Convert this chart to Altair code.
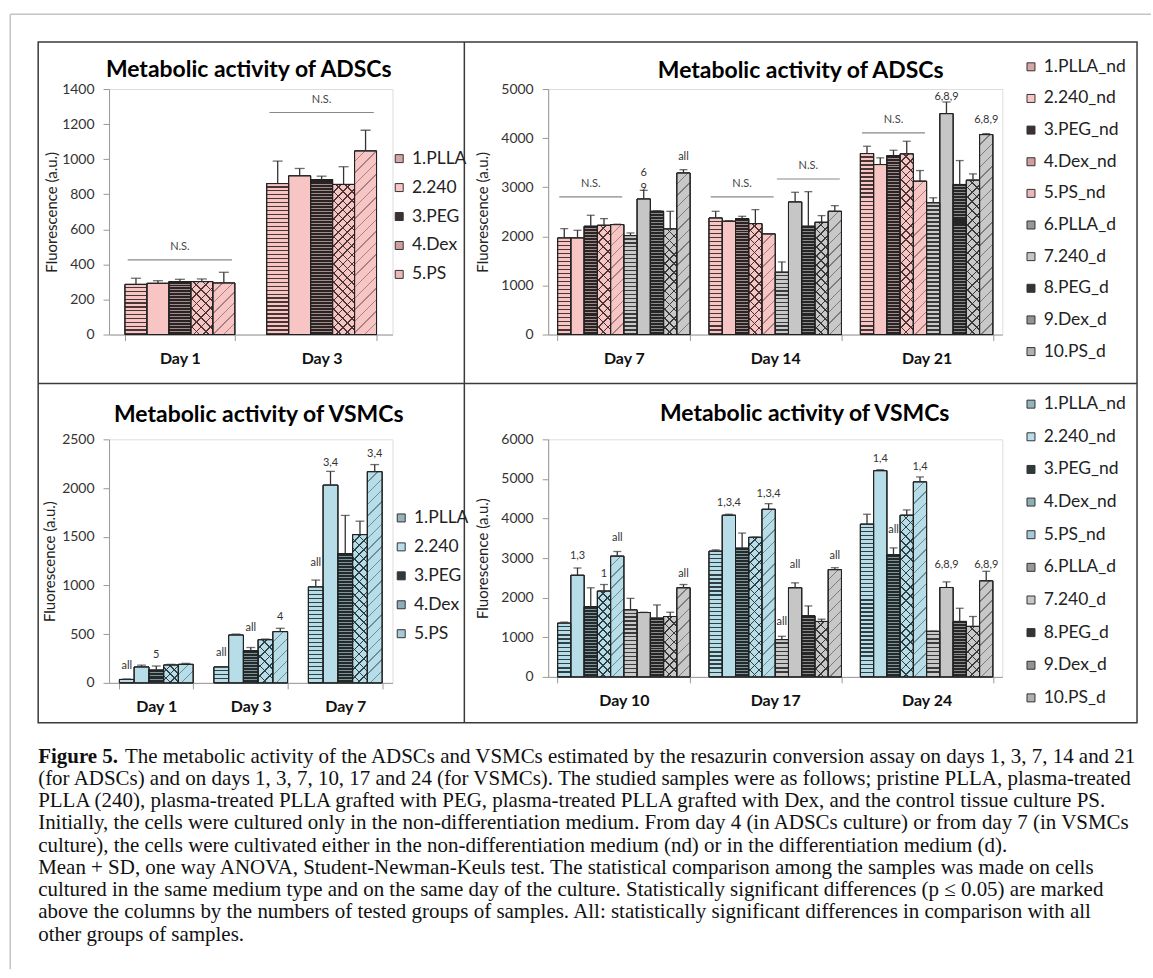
import math
import altair as alt
import pandas as pd

FONT = "Lato"
SERIF = "Liberation Serif"

# ---------------- data ----------------
# Panel A: ADSCs, days 1 and 3
a_days = ["Day 1", "Day 3"]
a_series = ["1.PLLA", "2.240", "3.PEG", "4.Dex", "5.PS"]
a_values = [[286, 292, 302, 302, 294], [861, 905, 884, 856, 1047]]
a_sd = [[35, 15, 13, 15, 61], [128, 42, 19, 101, 118]]
a_ns = [["Day 1", "3.PEG", 426], ["Day 3", "3.PEG", 1266]]
a_notes = []

# Panel B: ADSCs, days 7, 14, 21
b_days = ["Day 7", "Day 14", "Day 21"]
b_series = ["1.PLLA_nd", "2.240_nd", "3.PEG_nd", "4.Dex_nd", "5.PS_nd",
            "6.PLLA_d", "7.240_d", "8.PEG_d", "9.Dex_d", "10.PS_d"]
b_values = [[1967, 1967, 2205, 2225, 2239, 2015, 2761, 2510, 2151, 3290],
            [2374, 2307, 2361, 2259, 2049, 1269, 2700, 2205, 2286, 2510],
            [3686, 3462, 3645, 3679, 3123, 2683, 4499, 3056, 3144, 4072]]
b_sd = [[190, 156, 224, 136, 8, 54, 176, 10, 359, 68],
        [136, 13, 47, 285, 6, 210, 197, 705, 136, 115],
        [149, 136, 108, 257, 217, 102, 237, 487, 128, 20]]
b_ns = [["Day 7", "3.PEG_nd", 2802], ["Day 14", "3.PEG_nd", 2802],
        ["Day 14", "8.PEG_d", 3168], ["Day 21", "3.PEG_nd", 4106]]
b_notes = [["Day 7", "7.240_d", 3290, "6\n9"], ["Day 7", "10.PS_d", 3609, "all"],
           ["Day 21", "7.240_d", 4831, "6,8,9"], ["Day 21", "10.PS_d", 4363, "6,8,9"]]

# Panel C: VSMCs, days 1, 3, 7
c_days = ["Day 1", "Day 3", "Day 7"]
c_series = ["1.PLLA", "2.240", "3.PEG", "4.Dex", "5.PS"]
c_values = [[35, 163, 131, 183, 190], [163, 491, 329, 443, 526],
            [985, 2030, 1328, 1522, 2168]]
c_sd = [[5, 20, 42, 7, 10], [3, 10, 34, 7, 34], [70, 141, 391, 138, 73]]
c_ns = []
c_notes = [["Day 1", "1.PLLA", 173, "all"], ["Day 1", "3.PEG", 287, "5"],
           ["Day 3", "1.PLLA", 311, "all"], ["Day 3", "3.PEG", 560, "all"],
           ["Day 3", "5.PS", 674, "4"], ["Day 7", "1.PLLA", 1230, "all"],
           ["Day 7", "2.240", 2254, "3,4"], ["Day 7", "5.PS", 2351, "3,4"]]

# Panel D: VSMCs, days 10, 17, 24
d_days = ["Day 10", "Day 17", "Day 24"]
d_series = b_series
d_values = [[1358, 2567, 1775, 2167, 3050, 1692, 1625, 1483, 1525, 2250],
            [3175, 4083, 3250, 3525, 4233, 942, 2250, 1542, 1400, 2708],
            [3858, 5208, 3083, 4083, 4925, 1150, 2258, 1400, 1275, 2425]]
d_sd = [[25, 183, 475, 166, 117, 291, 8, 334, 108, 83],
        [33, 25, 383, 5, 142, 83, 125, 250, 58, 50],
        [250, 25, 175, 134, 125, 5, 142, 333, 250, 242]]
d_ns = []
d_notes = [["Day 10", "2.240_nd", 3042, "1,3"], ["Day 10", "4.Dex_nd", 2592, "1"],
           ["Day 10", "5.PS_nd", 3508, "all"], ["Day 10", "10.PS_d", 2592, "all"],
           ["Day 17", "2.240_nd", 4400, "1,3,4"], ["Day 17", "5.PS_nd", 4625, "1,3,4"],
           ["Day 17", "6.PLLA_d", 1383, "all"], ["Day 17", "7.240_d", 2817, "all"],
           ["Day 17", "10.PS_d", 3042, "all"], ["Day 24", "2.240_nd", 5500, "1,4"],
           ["Day 24", "3.PEG_nd", 3717, "all"], ["Day 24", "5.PS_nd", 5300, "1,4"],
           ["Day 24", "7.240_d", 2817, "6,8,9"], ["Day 24", "10.PS_d", 2817, "6,8,9"]]

title_adsc = "Metabolic activity of ADSCs"
title_vsmc = "Metabolic activity of VSMCs"
y_title = "Fluorescence (a.u.)"

caption_head = "Figure 5."
caption_first = ("The metabolic activity of the ADSCs and VSMCs estimated by the resazurin "
                 "conversion assay on days 1, 3, 7, 14 and 21")
caption_rest = [
    "(for ADSCs) and on days 1, 3, 7, 10, 17 and 24 (for VSMCs). The studied samples were as follows; pristine PLLA, plasma-treated",
    "PLLA (240), plasma-treated PLLA grafted with PEG, plasma-treated PLLA grafted with Dex, and the control tissue culture PS.",
    "Initially, the cells were cultured only in the non-differentiation medium. From day 4 (in ADSCs culture) or from day 7 (in VSMCs",
    "culture), the cells were cultivated either in the non-differentiation medium (nd) or in the differentiation medium (d).",
    "Mean + SD, one way ANOVA, Student-Newman-Keuls test. The statistical comparison among the samples was made on cells",
    "cultured in the same medium type and on the same day of the culture. Statistically significant differences (p \u2264 0.05) are marked",
    "above the columns by the numbers of tested groups of samples. All: statistically significant differences in comparison with all",
    "other groups of samples.",
]

# ---------------- styles ----------------
# colour families: (legend swatch colours, pattern background, pattern line colour)
PINK = {"legend": ["#d6a5a5", "#f8c5c5", "#3b3131", "#d09e9e", "#eab8b8"],
        "bg": ["#f8c5c5", "#f8c5c5", "#2a2323", "#f8c5c5", "#f8c5c5"],
        "line": ["#4a3535", None, "#a08a8a", "#4a3535", "#a88383"]}
GRAY = {"legend": ["#989898", "#c6c6c6", "#343434", "#939393", "#b0b0b0"],
        "bg": ["#c8c8c8", "#c6c6c6", "#262626", "#c8c8c8", "#c8c8c8"],
        "line": ["#3a3a3a", None, "#8a8a8a", "#3a3a3a", "#7c7c7c"]}
BLUE = {"legend": ["#94b3bc", "#b7dde8", "#2f3a3d", "#8fadb6", "#a6cbd6"],
        "bg": ["#b7dde8", "#b7dde8", "#232a2c", "#b7dde8", "#b7dde8"],
        "line": ["#2f3f44", None, "#7f9499", "#2f3f44", "#6f8d95"]}
# pattern per sample type: list of (direction, period px, line width px)
PATTERN = [[("h", 4.0, 1.3)],                       # PLLA  (zig-zag)
           [],                                      # 240   (plain)
           [("h", 3.0, 1.0)],                       # PEG   (dark, dotted)
           [("/", 6.5, 1.1), ("\\", 6.5, 1.1)],     # Dex   (cross-hatch)
           [("/", 8.0, 1.0)]]                       # PS    (sparse)


def stripes(direction, w, h, period, thick, line, bg):
    w = max(w, 1.0)
    h = max(h, 1.0)
    if direction == "h":
        x1, y1, x2, y2 = 0, 0, 0, 1
        length = h
    else:
        k = (w + h) / (w * w + h * h)
        if direction == "/":
            x1, y1, x2, y2 = 0, 0, w * k, h * k
        else:
            x1, y1, x2, y2 = 0, 1, w * k, 1 - h * k
        length = (w + h) / math.sqrt(2)
    n = max(1, round(length / period))
    f = min(0.9, thick / (length / n))
    stops = []
    for i in range(n):
        a, b, c = i / n, (i + 1 - f) / n, (i + 1) / n
        stops += [{"offset": a, "color": bg}, {"offset": b, "color": bg},
                  {"offset": b, "color": line}, {"offset": c, "color": line}]
    return {"gradient": "linear", "x1": x1, "y1": y1, "x2": x2, "y2": y2,
            "stops": stops}


one = pd.DataFrame({"k": [0]})


def panel(days, series, values, sds, families, ns, notes, width, height, ymax, ystep,
          group_frac, title, title_xy, legend_xy, row_pad, title_pad, extra=()):
    step = width / len(days)
    p = 1 - group_frac
    bar_w = step * group_frac / len(series)
    legend_colors = []
    for fam in families:
        legend_colors += fam["legend"]

    rows = []
    for d, vals, errs in zip(days, values, sds):
        for i, (s, v, e) in enumerate(zip(series, vals, errs)):
            fam = families[i // 5]
            kind = i % 5
            h = v / ymax * height
            pats = PATTERN[kind]
            p1 = p2 = "transparent"
            if len(pats) >= 1:
                d1, per, th = pats[0]
                p1 = stripes(d1, bar_w, h, per, th, fam["line"][kind], fam["bg"][kind])
            if len(pats) >= 2:
                d2, per, th = pats[1]
                p2 = stripes(d2, bar_w, h, per, th, fam["line"][kind], "rgba(0,0,0,0)")
            if not pats:
                p1 = fam["bg"][kind]
            rows.append({"day": d, "series": s, "value": v, "upper": v + e,
                         "pat1": p1, "pat2": p2})
    df = pd.DataFrame(rows)

    x = alt.X("day:N", sort=days,
              scale=alt.Scale(domain=days, paddingInner=p, paddingOuter=p / 2),
              axis=alt.Axis(title=None, labelAngle=0, labelFont=FONT, labelFontSize=16,
                            labelFontWeight="bold", labelColor="#111", tickBand="extent",
                            tickSize=6, tickColor="#999", domainColor="#999",
                            labelPadding=10))
    xo = alt.XOffset("series:N", sort=series,
                     scale=alt.Scale(domain=series, paddingInner=0, paddingOuter=0))
    yaxis = alt.Axis(title=y_title, values=list(range(0, ymax + 1, ystep)), grid=False,
                     format="d",
                     labelFont=FONT, labelFontSize=14, labelColor="#333",
                     titleFont=FONT, titleFontSize=15, titleFontWeight="normal",
                     titleColor="#222", titlePadding=title_pad, tickSize=6,
                     tickColor="#999", domainColor="#999", labelPadding=9)
    ysc = alt.Scale(domain=[0, ymax], nice=False)
    y = alt.Y("value:Q", scale=ysc, axis=yaxis)

    bars = alt.Chart(df).mark_bar(stroke="#222", strokeWidth=1).encode(
        x=x, xOffset=xo, y=y,
        fill=alt.Fill("series:N", sort=series,
                      scale=alt.Scale(domain=series, range=legend_colors),
                      legend=alt.Legend(title=None, orient="none",
                                        legendX=legend_xy[0], legendY=legend_xy[1],
                                        symbolType="square", symbolSize=64,
                                        symbolStrokeColor="#333", symbolStrokeWidth=1,
                                        labelFont=FONT, labelFontSize=17.5,
                                        labelColor="#222", rowPadding=row_pad,
                                        labelOffset=4, padding=0)),
    )
    tex1 = alt.Chart(df).mark_bar(stroke="#222", strokeWidth=1).encode(
        x=x, xOffset=xo, y=y, color=alt.Color("pat1:N", scale=None, legend=None))
    tex2 = alt.Chart(df).mark_bar(strokeWidth=0).encode(
        x=x, xOffset=xo, y=y, color=alt.Color("pat2:N", scale=None, legend=None))
    outline = alt.Chart(df).mark_bar(fill="transparent", stroke="#222",
                                     strokeWidth=1).encode(x=x, xOffset=xo, y=y)
    err = alt.Chart(df).mark_rule(color="#333", strokeWidth=1.3).encode(
        x=x, xOffset=xo, y=y, y2="upper:Q")
    caps = alt.Chart(df).mark_tick(orient="horizontal", color="#333", thickness=1.3,
                                   size=min(10, 0.6 * bar_w)).encode(
        x=x, xOffset=xo, y=alt.Y("upper:Q", scale=ysc, axis=yaxis))
    layers = [bars, tex1, tex2, outline, err, caps]

    if ns:
        ns_df = pd.DataFrame(ns, columns=["day", "series", "y"])
        layers.append(alt.Chart(ns_df).mark_tick(
            orient="horizontal", color="#555", thickness=1.2,
            size=5 * bar_w * 0.95).encode(
            x=x, xOffset=xo, y=alt.Y("y:Q", scale=ysc, axis=yaxis)))
        layers.append(alt.Chart(ns_df).mark_text(
            font=FONT, fontSize=11, color="#444", dy=-13).encode(
            x=x, xOffset=xo, y=alt.Y("y:Q", scale=ysc, axis=yaxis),
            text=alt.value("N.S.")))
    if notes:
        nt_df = pd.DataFrame(notes, columns=["day", "series", "y", "label"])
        layers.append(alt.Chart(nt_df).mark_text(
            font=FONT, fontSize=11, color="#333", baseline="middle",
            lineBreak="\n", lineHeight=15).encode(
            x=x, xOffset=xo, y=alt.Y("y:Q", scale=ysc, axis=yaxis), text="label:N"))

    layers.append(alt.Chart(one).mark_text(
        font=FONT, fontSize=23, fontWeight="bold", color="#000",
        align="center", baseline="middle").encode(
        x=alt.value(title_xy[0]), y=alt.value(title_xy[1]), text=alt.value(title)))
    layers.extend(extra)
    return alt.layer(*layers).properties(width=width, height=height)


# decorations drawn relative to the first panel's plot origin
frame = alt.Chart(one).mark_rect(fill="transparent", stroke="#3a3a3a",
                                 strokeWidth=1.5).encode(
    x=alt.value(-71), x2=alt.value(1030), y=alt.value(-47), y2=alt.value(635))
vdiv = alt.Chart(one).mark_rule(color="#3a3a3a", strokeWidth=1.5).encode(
    x=alt.value(356), y=alt.value(-47), y2=alt.value(635))
hdiv = alt.Chart(one).mark_rule(color="#3a3a3a", strokeWidth=1.5).encode(
    x=alt.value(-71), x2=alt.value(1030), y=alt.value(295))
page_left = alt.Chart(one).mark_rule(color="#c4c4c4", strokeWidth=1.5).encode(
    x=alt.value(-99), y=alt.value(-75), y2=alt.value(882))
page_top = alt.Chart(one).mark_rule(color="#c4c4c4", strokeWidth=1.5).encode(
    x=alt.value(-99), x2=alt.value(1044), y=alt.value(-75))
CAP_SIZE = 21
cap_head = alt.Chart(one).mark_text(font=SERIF, fontSize=CAP_SIZE, fontWeight="bold",
                                    align="left", baseline="alphabetic", color="#111").encode(
    x=alt.value(-71), y=alt.value(675), text=alt.value(caption_head))
cap_first = alt.Chart(one).mark_text(font=SERIF, fontSize=CAP_SIZE, align="left",
                                     baseline="alphabetic", color="#111").encode(
    x=alt.value(16), y=alt.value(675), text=alt.value(caption_first))
cap_rest = alt.Chart(one).mark_text(font=SERIF, fontSize=CAP_SIZE, align="left",
                                    baseline="alphabetic", color="#111",
                                    lineHeight=22.3).encode(
    x=alt.value(-71), y=alt.value(697.3), text=alt.value(caption_rest))

decor = [frame, vdiv, hdiv, page_left, page_top, cap_head, cap_first, cap_rest]

pA = panel(a_days, a_series, a_values, a_sd, [PINK], a_ns, a_notes,
           284, 246, 1400, 200, 0.775, title_adsc, (140, -19), (282, 61), 10, 2,
           extra=decor)
pB = panel(b_days, b_series, b_values, b_sd, [PINK, GRAY], b_ns, b_notes,
           455, 246, 5000, 1000, 0.875, title_adsc, (253, -18), (475, -31), 12.7, 10)
pC = panel(c_days, c_series, c_values, c_sd, [BLUE], c_ns, c_notes,
           284, 244, 2500, 500, 0.78, title_vsmc, (150, -24), (284, 70), 10, 4)
pD = panel(d_days, d_series, d_values, d_sd, [BLUE, GRAY], d_ns, d_notes,
           455, 238, 6000, 1000, 0.875, title_vsmc, (257, -25), (475, -44), 13.7, 10)

ind = dict(x="independent", y="independent", xOffset="independent", fill="independent")
top = alt.hconcat(pA, pB, spacing=156, bounds="flush").resolve_scale(**ind)
bottom = alt.hconcat(pC, pD, spacing=156, bounds="flush").resolve_scale(**ind)
# nested concat rows count as zero height with flush bounds, so the spacing
# is measured from the top of the first row
chart = alt.vconcat(top, bottom, spacing=351, bounds="flush").resolve_scale(**ind).properties(
    padding={"left": 8.25, "top": 11.25, "right": 0, "bottom": 0}
).configure_view(stroke=None).configure(background="white")

chart.save("out.html", embed_options={"renderer": "svg", "actions": False})
